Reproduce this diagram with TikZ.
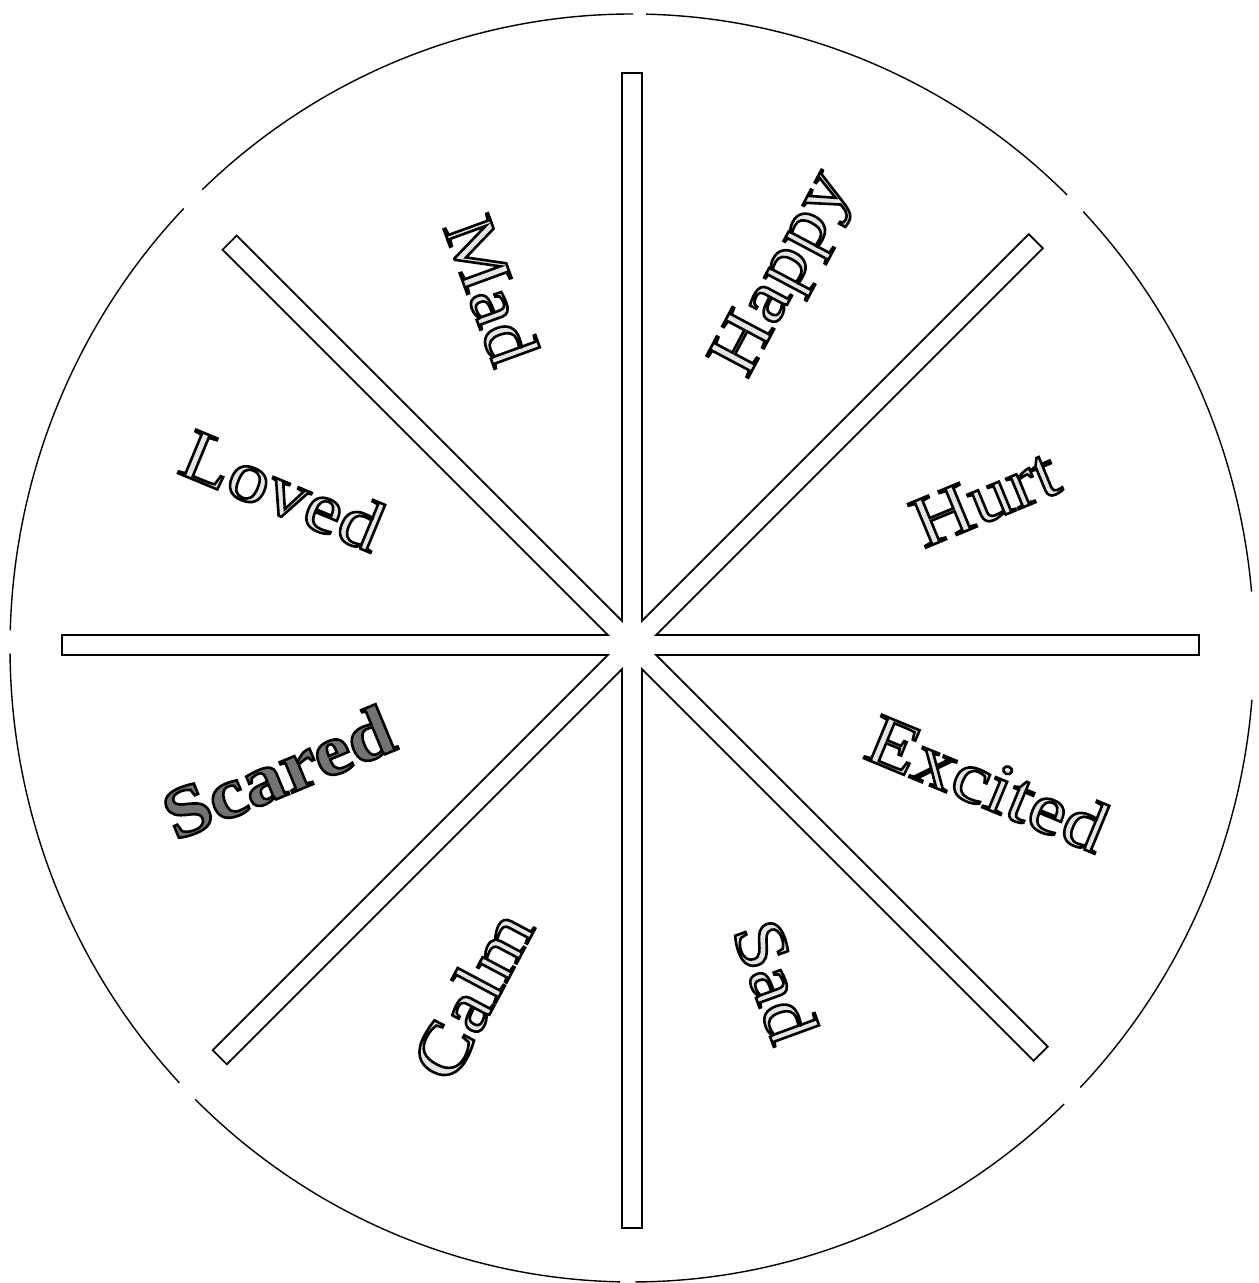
\documentclass[tikz,border=0pt]{standalone}
\usepackage{fontspec}
\setmainfont{Liberation Serif}[FakeStretch=1.15]
\usetikzlibrary{calc}
\newcommand\outl[2]{{\color{#1}\special{pdf:literal direct 2 Tr 1.3 w 0 G}#2\special{pdf:literal direct 0 Tr}}}
\begin{document}
\begin{tikzpicture}[x=0.5pt,y=0.5pt,
  rim/.style={line width=0.7pt},
  bar/.style={line width=0.85pt, line join=miter},
  lab/.style={font=\fontsize{36}{42}\selectfont, inner sep=0pt}]
\useasboundingbox (0,0) rectangle (1258,1283);
\coordinate (C) at (632,638);
\coordinate (E) at (632,635);
\foreach \a/\b in {5.1/43.5, 45.6/88.7, 89.9/133.7, 136.1/178.4, 180.5/223.3, 225.4/268.9, 270.3/314.0, 316.1/355.3}
  \draw[rim] ([shift={(E)}]\a:622 and 634) arc[start angle=\a, end angle=\b, x radius=622, y radius=634];
\draw[bar, fill=white] ($(C)+(-22.5:26.13)$)
  \foreach \t/\r in {0/567,45/571,90/572,135/569,180/570,225/583,270/583,315/578}{
    -- ($(C)+(\t:\r)+(\t-90:10)$) -- ($(C)+(\t:\r)+(\t+90:10)$) -- ($(C)+(\t+22.5:26.13)$)
  } -- cycle;
\node[lab, rotate=-70] (mad) at (492,993) {\outl{black!10}{Mad}};
\node[lab, rotate=62] (happy) at (785,1008) {\outl{black!10}{Happy}};
\node[lab, rotate=22.5] (hurt) at (985,785) {\outl{black!10}{Hurt}};
\node[lab, rotate=-22.5] (excited) at (988,500) {\outl{black!10}{Excited}};
\node[lab, rotate=-70] (sad) at (776,302) {\outl{black!10}{Sad}};
\node[lab, rotate=62] (calm) at (472,288) {\outl{black!10}{Calm}};
\node[lab, rotate=22.5, font=\fontsize{36}{42}\selectfont\bfseries] (scared) at (278,511) {\outl{black!55}{Scared}};
\node[lab, rotate=-22.5] (loved) at (283,793) {\outl{black!10}{Loved}};
\end{tikzpicture}
\end{document}
